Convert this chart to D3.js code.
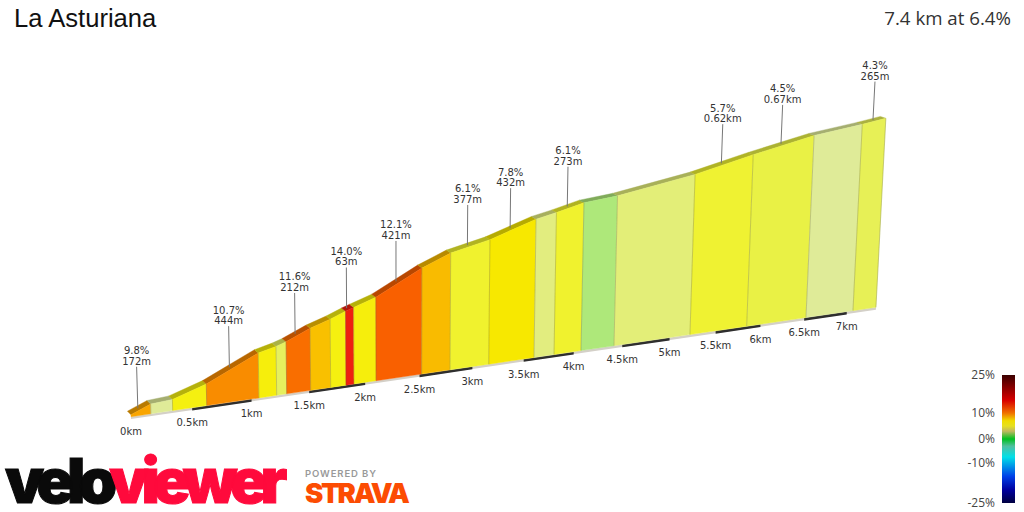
<!DOCTYPE html>
<html><head><meta charset="utf-8">
<script src="https://cdnjs.cloudflare.com/ajax/libs/d3/7.8.5/d3.min.js"></script>
<style>html,body{margin:0;padding:0;background:#fff;overflow:hidden}svg{display:block}</style>
</head><body><svg id="c" width="1024" height="512"></svg>
<script>
const titleText = "La Asturiana";
const summaryText = "7.4 km at 6.4%";
const boundaryKm = [0,0.161,0.339,0.621,1.063,1.216,1.303,1.513,1.69,1.827,1.899,2.099,2.52,2.787,3.158,3.602,3.802,4.075,4.414,5.22,5.845,6.521,7.074,7.35];
const elevationM = [4,20,23,45,95,104,111,133,147,160,166,182,234,260,280,315,325,341,349,381,415,448,465,475];
const gradePct = [9.8,3,7,10.7,7.2,4.2,11.6,8.8,7,14,7.2,12.1,9,6.1,7.8,3.7,6.1,2,3.9,5.7,4.5,3,4.3];
const calloutSegment = [0,3,6,9,11,13,14,16,19,20,22];
const calloutGrade = ["9.8%","10.7%","11.6%","14.0%","12.1%","6.1%","7.8%","6.1%","5.7%","4.5%","4.3%"];
const calloutLength = ["172m","444m","212m","63m","421m","377m","432m","273m","0.62km","0.67km","265m"];
const kmTicks = [0,0.5,1,1.5,2,2.5,3,3.5,4,4.5,5,5.5,6,6.5,7];
const kmTickLabels = ["0km","0.5km","1km","1.5km","2km","2.5km","3km","3.5km","4km","4.5km","5km","5.5km","6km","6.5km","7km"];
const gradeStops = [2,3,3.9,4.5,5.7,6.1,7,7.8,8.8,9.8,10.7,11.6,12.1,14];
const gradeColors = ["#aee87a","#dfeb98","#e3ee78","#e9f145","#eff232","#f0f22e","#f5f010","#f7e800","#f9c000","#f9a500","#f98c00","#f96e00","#f96000","#ee2010"];
const legendTicks = [25,10,0,-10,-25];
const legendStops = [25,20,15,10,7,5,3,0,-3,-7.5,-15,-20,-25];
const legendColors = ["#3a0000","#8a0000","#d80000","#f07000","#f0dc00","#e6e020","#c0b860","#00c020","#50c0a0","#00e0e8","#0040e8","#0000a0","#000040"];

const svg = d3.select("#c");
const color = d3.scaleLinear().domain(gradeStops).range(gradeColors);

// projected ground line
const xRaw = d3.scaleLinear().domain([0,7.35]).range([0,913.6]);
const depth = d3.scaleLinear().domain([0,7.35]).range([1,1.2264]);
const baseX = d => 131 + xRaw(d)/depth(d);
const baseY = d3.scaleLinear().domain([131,876]).range([416.7,307.3]);
const heightS = d3.scaleLinear().domain([0,500]).range([0,244]);
const lean = d3.scaleLinear().domain([400,876]).range([0,0.0524]);
const top3 = (d,e) => {
  const bx = baseX(d), h = heightS(e)/depth(d);
  return [bx + h*lean(bx), baseY(bx) - h];
};
const back = d3.scaleLinear().domain([130,887]).range([-3.5,-5.5]);
const backY = d3.scaleLinear().domain([130,887]).range([-3.6,-1.9]);
const toBack = ([x,y]) => [x+back(x), y+backY(x)];
const foot = d => { const x = baseX(d); return [x, baseY(x)]; };

const segs = gradePct.map((g,i)=>({g,i,d0:boundaryKm[i],d1:boundaryKm[i+1],e0:elevationM[i],e1:elevationM[i+1]}));
const line = d3.line();

// top band
svg.append("g").selectAll("path").data(segs).join("path")
  .attr("d", s => {
    const a = top3(s.d0,s.e0), b = top3(s.d1,s.e1);
    return line([a,b,toBack(b),toBack(a)])+"Z";
  })
  .attr("fill", s => d3.color(color(s.g)).darker(0.85))
  .attr("stroke", s => d3.color(color(s.g)).darker(0.85)).attr("stroke-width",0.4);

// base strip
svg.append("path")
  .attr("d", () => { const a=foot(0), b=foot(7.35); return line([a,b,[b[0],b[1]+2.4],[a[0],a[1]+2.4]])+"Z"; })
  .attr("fill","#d4d0c8");
const halfStarts = kmTicks.filter((k,i)=>i%2===1);
svg.append("g").selectAll("path").data(halfStarts).join("path")
  .attr("d", k => { const a=foot(k), b=foot(k+0.5); return line([[a[0],a[1]+0.2],[b[0],b[1]+0.2],[b[0],b[1]+2.8],[a[0],a[1]+2.8]])+"Z"; })
  .attr("fill","#2e2e2e");

// faces
svg.append("g").selectAll("path").data(segs).join("path")
  .attr("d", s => line([foot(s.d0),foot(s.d1),top3(s.d1,s.e1),top3(s.d0,s.e0)])+"Z")
  .attr("fill", s => color(s.g))
  .attr("stroke", s => color(s.g)).attr("stroke-width",0.4);
// separators
svg.append("g").selectAll("path").data(boundaryKm.slice(1)).join("path")
  .attr("d",(d,i)=> line([foot(d),top3(d,elevationM[i+1])]))
  .attr("stroke","rgba(90,90,60,0.28)").attr("stroke-width",1).attr("fill","none");

const fontMain = "'DejaVu Sans',Verdana,sans-serif";
// km labels
svg.append("g").selectAll("text").data(kmTicks).join("text")
  .attr("x", d => baseX(d)).attr("y", d => baseY(baseX(d)) + 18.5)
  .attr("text-anchor","middle").attr("font-family",fontMain).attr("font-size",10).attr("fill","#333")
  .text((d,i)=>kmTickLabels[i]);

// callouts
const leaderLen = d3.scaleLinear().domain([130,880]).range([41.5,38.5]);
const leaderShift = d3.scaleLinear().domain([130,780,880]).range([-3,-3,-1]);
const callouts = calloutSegment.map((si,i)=>{
  const s = segs[si], dm=(s.d0+s.d1)/2;
  const [fx,fy] = top3(dm,(s.e0+s.e1)/2);
  const sx = fx+leaderShift(fx), sy = fy-1.2, len = leaderLen(fx);
  const ex = sx + len*lean(sx), ey = sy-len;
  return {sx,sy,ex,ey,a:calloutGrade[i],b:calloutLength[i]};
});
const cg = svg.append("g");
cg.selectAll("line").data(callouts).join("line")
  .attr("x1",c=>c.sx).attr("y1",c=>c.sy).attr("x2",c=>c.ex).attr("y2",c=>c.ey)
  .attr("stroke","#777").attr("stroke-width",1);
cg.selectAll("text.a").data(callouts).join("text").attr("class","a")
  .attr("x",c=>c.ex).attr("y",c=>c.ey-12.5).attr("text-anchor","middle")
  .attr("font-family",fontMain).attr("font-size",10).attr("fill","#333").text(c=>c.a);
cg.selectAll("text.b").data(callouts).join("text").attr("class","b")
  .attr("x",c=>c.ex).attr("y",c=>c.ey-2).attr("text-anchor","middle")
  .attr("font-family",fontMain).attr("font-size",10).attr("fill","#333").text(c=>c.b);

// titles
svg.append("text").attr("x",14).attr("y",27).attr("font-family","'Liberation Sans',Arial,sans-serif").attr("font-size",25.6).attr("fill","#111").text(titleText);
svg.append("text").attr("x",1011).attr("y",25).attr("text-anchor","end").attr("font-family","'Open Sans',sans-serif").attr("font-size",18.7).attr("fill","#333").text(summaryText);

// legend
const legY = d3.scaleLinear().domain([25,10,0,-10,-25]).range([375,413,439,463,503]);
const defs = svg.append("defs");
const lg = defs.append("linearGradient").attr("id","lg").attr("x1",0).attr("y1",0).attr("x2",0).attr("y2",1);
lg.selectAll("stop").data(legendStops).join("stop")
  .attr("offset",d=>(legY(d)-375)/(503-375)).attr("stop-color",(d,i)=>legendColors[i]);
svg.append("rect").attr("x",1002).attr("y",375).attr("width",13).attr("height",128).attr("fill","url(#lg)");
svg.append("g").selectAll("text").data(legendTicks).join("text")
  .attr("x",995).attr("y",d=>legY(d)+4).attr("text-anchor","end")
  .attr("font-family","'Open Sans',sans-serif").attr("font-size",12).attr("fill","#444").text(d=>d+"%");

// logos
const lf = "Inter,'Liberation Sans',sans-serif";
const logo = svg.append("text").attr("x",5).attr("y",503).attr("font-family",lf).attr("font-weight",900).attr("font-size",62)
  .attr("letter-spacing",-6.9).attr("stroke-width",1);
logo.append("tspan").attr("fill","#0a0a0a").attr("stroke","#0a0a0a").text("velo");
logo.append("tspan").attr("fill","#ff0a3c").attr("stroke","#ff0a3c").text("viewer");
svg.append("text").attr("x",305).attr("y",477).attr("font-family",lf).attr("font-weight",600).attr("font-size",9.5)
  .attr("fill","#999").attr("letter-spacing",0.9).text("POWERED BY");
svg.append("text").attr("x",305).attr("y",503).attr("font-family",lf).attr("font-weight",900).attr("font-size",27.5)
  .attr("fill","#fc4c02").attr("letter-spacing",-2.3).text("STRAVA");
</script></body></html>
